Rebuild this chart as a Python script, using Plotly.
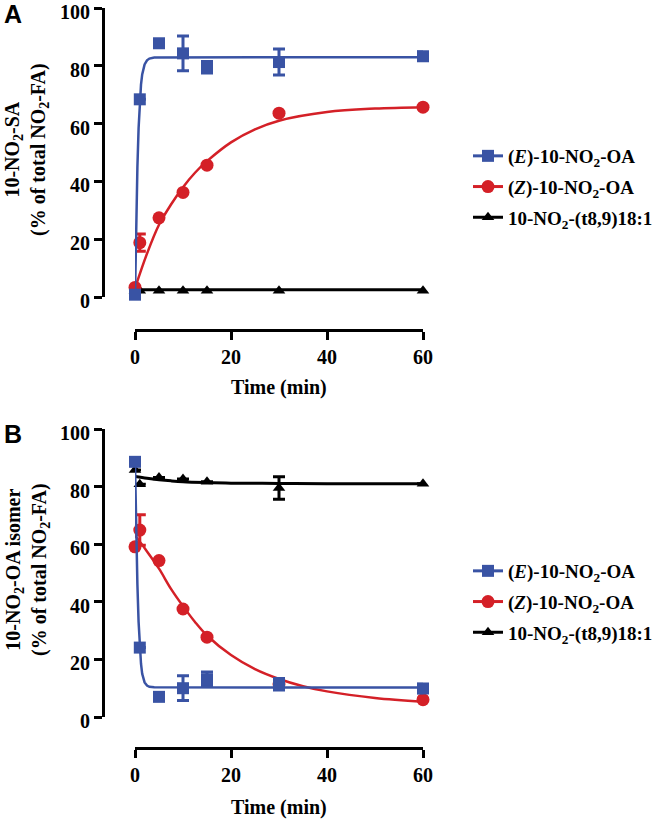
import plotly.graph_objects as go

BLUE = "#3953a4"
RED = "#d42027"
BLACK = "#000000"

# ---- measured points (time in min) ----
t_pts = [0, 1, 5, 10, 15, 30, 60]

# panel A: 10-NO2-SA (% of total NO2-FA)
a_e = [0.8, 68.4, 87.8, 84.3, 79.5, 81.3, 83.3]
a_e_err = [0, 0, 0, 6, 2, 4.5, 1.5]
a_z = [3.3, 18.8, 27.4, 36.2, 45.6, 63.6, 65.7]
a_z_err = [0, 3, 0, 0, 0, 0, 0]
a_t89 = [2.2, 2.2, 2.2, 2.2, 2.2, 2.2, 2.2]

# panel B: 10-NO2-OA isomer (% of total NO2-FA)
b_e = [88.6, 24.1, 7.0, 10.0, 13.1, 11.4, 9.9]
b_e_err = [0, 0, 0, 4.3, 2.5, 2, 1.5]
b_z = [59.1, 64.9, 54.3, 37.5, 27.7, 11.5, 6.0]
b_z_err = [0, 5.3, 0, 0, 0, 0, 0]
b_t89 = [85.8, 80.8, 83.2, 82.6, 81.7, 79.5, 81.0]
b_t89_err = [0, 0, 0, 0, 0, 3.9, 0]

# ---- fitted curves ----
fit_a_e_t = [0, 0.25, 0.5, 0.75, 1, 1.25, 1.5, 2, 2.5, 3, 4, 60]
fit_a_e_y = [0, 26, 45, 58.5, 68, 73.5, 77, 80.5, 81.9, 82.5, 82.9, 83]
fit_a_z_t = [0, 2.5, 5, 7.5, 10, 12.5, 15, 20, 25, 30, 40, 50, 60]
fit_a_z_y = [3, 15, 25, 32, 38, 43, 47, 53.5, 58, 61, 64, 65.2, 65.7]
fit_a_t89_t = [0, 60]
fit_a_t89_y = [2.5, 2.5]

fit_b_e_t = [0, 0.25, 0.5, 0.75, 1, 1.25, 1.5, 2, 2.5, 3, 4, 60]
fit_b_e_y = [88, 64, 46, 33, 24, 18.5, 15, 12, 10.9, 10.5, 10.3, 10.2]
fit_b_z_t = [0, 2.5, 5, 7.5, 10, 12.5, 15, 20, 25, 30, 35, 40, 50, 60]
fit_b_z_y = [63, 57.5, 51.5, 44.5, 38.5, 33, 28.3, 21.5, 16.6, 13.2, 10.7, 8.9, 6.6, 5.3]
fit_b_t89_t = [0, 2.5, 5, 7.5, 10, 15, 20, 30, 40, 60]
fit_b_t89_y = [83.5, 82.9, 82.4, 82.0, 81.7, 81.4, 81.2, 81.1, 81, 81]

names = ["(<i>E</i>)-10-NO<sub>2</sub>-OA",
         "(<i>Z</i>)-10-NO<sub>2</sub>-OA",
         "10-NO<sub>2</sub>-(t8,9)18:1"]
colors = [BLUE, RED, BLACK]
symbols = ["square", "circle", "triangle-up"]
sizes = [12, 13, 11]
shapes = ["linear", "spline", "spline"]

W, H = 670, 820


def px(x):
    return x / W


def py(y):
    return 1 - y / H


fig = go.Figure()

panels = [
    dict(xa="x", ya="y", legend="legend",
         fits=[(fit_a_e_t, fit_a_e_y), (fit_a_z_t, fit_a_z_y), (fit_a_t89_t, fit_a_t89_y)],
         pts=[(a_e, a_e_err), (a_z, a_z_err), (a_t89, None)]),
    dict(xa="x2", ya="y2", legend="legend2",
         fits=[(fit_b_e_t, fit_b_e_y), (fit_b_z_t, fit_b_z_y), (fit_b_t89_t, fit_b_t89_y)],
         pts=[(b_e, b_e_err), (b_z, b_z_err), (b_t89, b_t89_err)]),
]

for p in panels:
    # black first so coloured series sit on top
    for i in [2, 1, 0]:
        ft, fy = p["fits"][i]
        fig.add_trace(go.Scatter(
            x=ft, y=fy, mode="lines", xaxis=p["xa"], yaxis=p["ya"],
            line=dict(color=colors[i], width=3 if i == 2 else 2.5, shape=shapes[i]),
            cliponaxis=False, showlegend=False, hoverinfo="skip"))
        vals, err = p["pts"][i]
        fig.add_trace(go.Scatter(
            x=t_pts, y=vals, mode="markers", xaxis=p["xa"], yaxis=p["ya"],
            marker=dict(symbol=symbols[i], size=sizes[i], color=colors[i]),
            error_y=dict(type="data", array=err, color=colors[i], thickness=3, width=6,
                         visible=err is not None),
            cliponaxis=False, showlegend=False))
    for i in range(3):
        fig.add_trace(go.Scatter(
            x=[None], y=[None], mode="lines+markers", name=names[i],
            xaxis=p["xa"], yaxis=p["ya"], legend=p["legend"], legendgroup=p["legend"] + str(i),
            line=dict(color=colors[i], width=3),
            marker=dict(symbol=symbols[i], size=sizes[i], color=colors[i])))

axis_common = dict(showgrid=False, zeroline=False, showline=True, linewidth=3,
                   linecolor="black", ticks="outside", ticklen=8, tickwidth=3,
                   tickcolor="black", automargin=False, ticklabeloverflow="allow")

x_dom = [px(135), px(423)]
fig.update_layout(
    width=W, height=H,
    margin=dict(l=0, r=0, t=0, b=0),
    paper_bgcolor="white", plot_bgcolor="white",
    font=dict(family="Liberation Serif", size=20, color="black", weight="bold"),
    xaxis=dict(domain=x_dom, range=[0, 60], tickvals=[0, 20, 40, 60],
               anchor="free", position=py(330), **axis_common),
    yaxis=dict(domain=[py(297), py(8)], range=[0, 100], dtick=20,
               anchor="free", position=px(103), ticklabelshift=4, **axis_common),
    xaxis2=dict(domain=x_dom, range=[0, 60], tickvals=[0, 20, 40, 60],
                anchor="free", position=py(748), **axis_common),
    yaxis2=dict(domain=[py(717), py(429)], range=[0, 100], dtick=20,
                anchor="free", position=px(103), ticklabelshift=4, **axis_common),
    legend=dict(x=px(468), y=py(137), xanchor="left", yanchor="top",
                tracegroupgap=3, bgcolor="rgba(0,0,0,0)", font=dict(size=19)),
    legend2=dict(x=px(468), y=py(552), xanchor="left", yanchor="top",
                 tracegroupgap=3, bgcolor="rgba(0,0,0,0)", font=dict(size=19)),
)

ann = [
    dict(text="A", x=px(13), y=py(14), font=dict(family="Liberation Sans", size=25)),
    dict(text="B", x=px(13), y=py(434), font=dict(family="Liberation Sans", size=25)),
    dict(text="Time (min)", x=px(279), y=py(387)),
    dict(text="Time (min)", x=px(279), y=py(807)),
    dict(text="10-NO<sub>2</sub>-SA<br>(% of total NO<sub>2</sub>-FA)",
         x=px(27), y=py(150), textangle=-90),
    dict(text="10-NO<sub>2</sub>-OA isomer<br>(% of total NO<sub>2</sub>-FA)",
         x=px(27), y=py(570), textangle=-90),
]
for a in ann:
    fig.add_annotation(xref="paper", yref="paper", showarrow=False,
                       xanchor="center", yanchor="middle", **a)

# the page body has a default 8px margin; drop it so the figure fills the window
fig.write_html("out.html", config={"displayModeBar": False},
               post_script="document.body.style.margin='0px';")
